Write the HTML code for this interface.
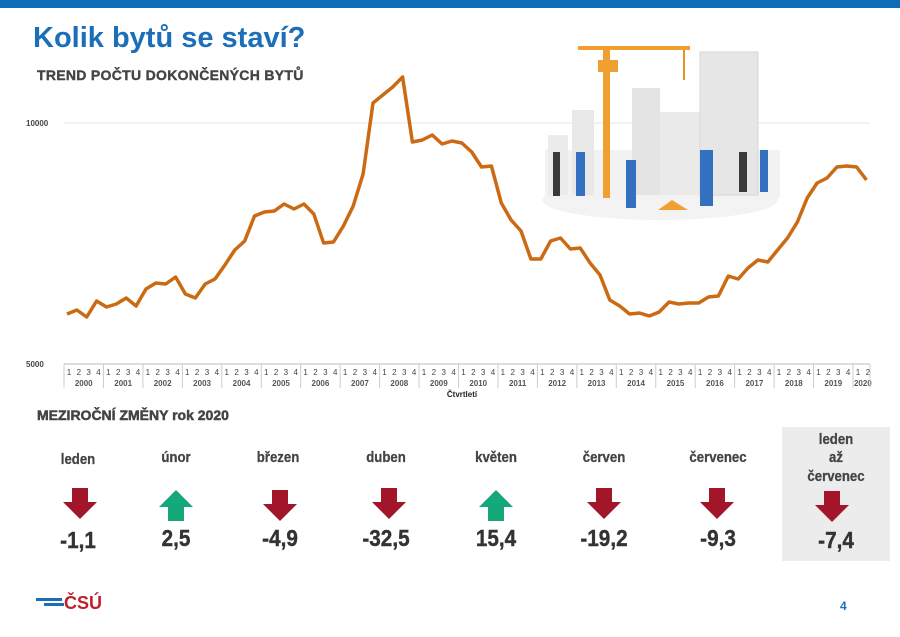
<!DOCTYPE html>
<html><head><meta charset="utf-8"><style>
body{margin:0;background:#fff;}
svg{display:block;font-family:"Liberation Sans",Arial,sans-serif;}
</style></head><body>
<svg id="s" width="900" height="637" viewBox="0 0 900 637">
<rect x="0" y="0" width="900" height="8" fill="#0f6db8"/>
<text x="33" y="47" font-size="29" font-weight="bold" fill="#1a6fb8">Kolik bytů se staví?</text>
<text x="37" y="80" font-size="14" font-weight="900" fill="#444" stroke="#444" stroke-width="0.4" letter-spacing="0.3">TREND POČTU DOKONČENÝCH BYTŮ</text>
<line x1="64" y1="123" x2="870" y2="123" stroke="#e6e6e6" stroke-width="1"/>
<text x="26" y="126" font-size="8" font-weight="bold" fill="#444">10000</text>
<text x="26" y="367" font-size="8" font-weight="bold" fill="#444">5000</text>
<!-- illustration -->
<g>
<ellipse cx="660" cy="200" rx="118" ry="20" fill="#f3f3f3"/>
<rect x="545" y="150" width="235" height="48" fill="#f2f2f2"/>
<rect x="572" y="110" width="22" height="85" fill="#e8e8e8"/>
<rect x="632" y="88" width="28" height="107" fill="#e4e4e4"/>
<rect x="660" y="112" width="40" height="83" fill="#eaeaea"/>
<rect x="700" y="52" width="58" height="143" fill="#e6e6e6" stroke="#d6d6d6" stroke-width="1"/>
<rect x="548" y="135" width="20" height="60" fill="#ececec"/>
<rect x="603" y="48" width="7" height="150" fill="#f0a030"/>
<rect x="578" y="46" width="112" height="4" fill="#f0a030"/>
<rect x="598" y="60" width="20" height="12" fill="#f0a030"/>
<line x1="684" y1="50" x2="684" y2="80" stroke="#e89020" stroke-width="2"/>
<rect x="553" y="152" width="7" height="44" fill="#3a3a3a"/>
<rect x="576" y="152" width="9" height="44" fill="#3470c0"/>
<rect x="626" y="160" width="10" height="48" fill="#3470c0"/>
<rect x="700" y="150" width="13" height="56" fill="#3470c0"/>
<rect x="739" y="152" width="8" height="40" fill="#3a3a3a"/>
<rect x="760" y="150" width="8" height="42" fill="#3470c0"/>
<path d="M658 210 L672 200 L688 210 Z" fill="#f0a030"/>
</g>
<polyline id="ln" fill="none" stroke="#cc6a14" stroke-width="3.5" stroke-linejoin="round"/>
<g id="ax" font-size="8" fill="#444" text-anchor="middle"></g>
<text x="462" y="397" font-size="8" font-weight="bold" fill="#222" text-anchor="middle">Čtvrtletí</text>
<text x="37" y="420" font-size="14" font-weight="900" fill="#444" stroke="#444" stroke-width="0.5">MEZIROČNÍ ZMĚNY  rok 2020</text>
<rect x="782" y="427" width="108" height="134" fill="#ececec"/>
<g font-size="15" font-weight="bold" fill="#444" text-anchor="middle" stroke="#444" stroke-width="0.3">
<text transform="translate(78,464) scale(0.88,1)">leden</text><text transform="translate(176,462) scale(0.88,1)">únor</text><text transform="translate(278,462) scale(0.88,1)">březen</text>
<text transform="translate(386,462) scale(0.88,1)">duben</text><text transform="translate(496,462) scale(0.88,1)">květen</text><text transform="translate(604,462) scale(0.88,1)">červen</text>
<text transform="translate(718,462) scale(0.88,1)">červenec</text>
<text transform="translate(836,444) scale(0.88,1)">leden</text><text transform="translate(836,462) scale(0.88,1)">až</text><text transform="translate(836,481) scale(0.88,1)">červenec</text>
</g>
<g font-size="23" font-weight="bold" fill="#333" text-anchor="middle" stroke="#333" stroke-width="0.4">
<text transform="translate(78,548) scale(0.9,1)">-1,1</text><text transform="translate(176,546) scale(0.9,1)">2,5</text><text transform="translate(280,546) scale(0.9,1)">-4,9</text>
<text transform="translate(386,546) scale(0.9,1)">-32,5</text><text transform="translate(496,546) scale(0.9,1)">15,4</text><text transform="translate(604,546) scale(0.9,1)">-19,2</text>
<text transform="translate(718,546) scale(0.9,1)">-9,3</text><text transform="translate(836,548) scale(0.9,1)">-7,4</text>
</g>
<g id="arr"></g>
<rect x="36" y="598" width="26" height="3" fill="#1a6fb8"/>
<rect x="44" y="603" width="20" height="3" fill="#1a6fb8"/>
<text x="64" y="609" font-size="18" font-weight="bold" fill="#c0202a">ČSÚ</text>
<text x="840" y="610" font-size="12" font-weight="bold" fill="#1a6fb8">4</text>
</svg>
<script>
var ys=[314,310,317,301,307,304,298,306,289,283,284,277,294,298,284,279,265,250,241,216,212,211,204,209,204,214,243,242,226,206,174,103,95,87,77,142,140,135,144,141,143,152,167,166,203,220,231,259,259,241,238,249,248,263,275,300,306,314,313,316,312,302,304,303,303,297,296,276,279,268,260,262,250,238,222,198,183,178,167,166,167,180];
var p=ys.map(function(y,i){return (67+9.87*i).toFixed(1)+","+y}).join(" ");
document.getElementById("ln").setAttribute("points",p);
var ax=document.getElementById("ax"),h="";
var x0=64,yw=39.45;
h+='<line x1="64" y1="364" x2="870" y2="364" stroke="#bbb"/>';
for(var y=0;y<=20;y++){var xs=x0+y*yw;var n=y<20?4:2;
h+='<line x1="'+xs+'" y1="364" x2="'+xs+'" y2="388" stroke="#ccc"/>';
for(var q=0;q<n;q++){h+='<text x="'+(xs+yw*(q+0.5)/4)+'" y="375">'+(q+1)+'</text>';}
var w=n*yw/4;h+='<text x="'+(xs+w/2)+'" y="386" font-weight="bold" fill="#555">'+(2000+y)+'</text>';}
h+='<line x1="870" y1="364" x2="870" y2="388" stroke="#ccc"/>';
ax.innerHTML=h;
function dn(cx,t){return '<path d="M'+(cx-8)+' '+t+'h16v14h9l-17 17l-17-17h9z" fill="#a3162a"/>';}
function up(cx,t){return '<path d="M'+cx+' '+t+'l17 17h-9v14h-16v-14h-9z" fill="#14a87a"/>';}
document.getElementById("arr").innerHTML=dn(80,488)+up(176,490)+dn(280,490)+dn(389,488)+up(496,490)+dn(604,488)+dn(717,488)+dn(832,491);
</script>
</body></html>
